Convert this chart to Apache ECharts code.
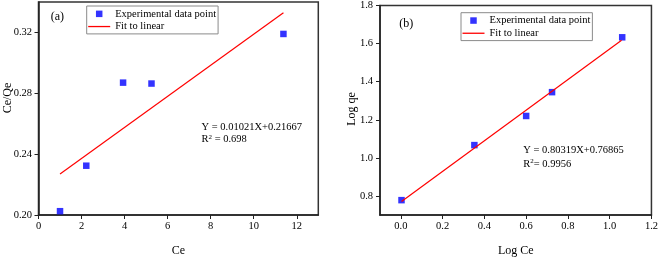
<!DOCTYPE html>
<html>
<head>
<meta charset="utf-8">
<script src="https://cdn.jsdelivr.net/npm/echarts@6/dist/echarts.min.js"></script>
<style>
html,body{margin:0;padding:0;background:#fff;}
#c{width:661px;height:262px;}
</style>
</head>
<body>
<div id="c"></div>
<script>
// ---- Panel (a): Langmuir-type plot ----
const ceA = [1.0, 2.22, 3.93, 5.25, 11.38];
const ceQeA = [0.2025, 0.2324, 0.287, 0.2864, 0.319];
const fitXA = [1.0, 11.38];
const fitYA = [0.227, 0.333];
const xTicksA = [0, 2, 4, 6, 8, 10, 12];
const yTicksA = [0.20, 0.24, 0.28, 0.32];

// ---- Panel (b): Freundlich-type plot ----
const logCeB = [0.003, 0.352, 0.600, 0.724, 1.060];
const logQeB = [0.778, 1.067, 1.220, 1.345, 1.633];
const fitXB = [0.003, 1.057];
const fitYB = [0.771, 1.617];
const xTicksB = [0.0, 0.2, 0.4, 0.6, 0.8, 1.0, 1.2];
const yTicksB = [0.8, 1.0, 1.2, 1.4, 1.6, 1.8];

const names = ['Experimental data point', 'Fit to linear'];
const FONT = 'Liberation Serif, Times New Roman, serif';

const zip = (a, b) => a.map((v, i) => [v, b[i]]);

function axisCommon(ticks, dec, margin) {
  return {
    axisLine: { show: true, onZero: false, lineStyle: { color: '#222', width: 1.5 } },
    axisTick: { show: true, inside: false, length: 4, lineStyle: { color: '#222', width: 1 }, customValues: ticks },
    axisLabel: { margin: margin, color: '#000', fontFamily: FONT, fontSize: 10.5, customValues: ticks,
                 formatter: v => Number(v).toFixed(dec) },
    splitLine: { show: false },
    nameTextStyle: { color: '#000', fontFamily: FONT, fontSize: 12 }
  };
}

const chart = echarts.init(document.getElementById('c'), null, { renderer: 'canvas' });

const legendCommon = {
  orient: 'vertical',
  itemWidth: 22,
  itemHeight: 6.5,
  itemGap: 0,
  padding: [1.5, 2, 1, 1.5],
  borderColor: '#8a8a8a',
  borderWidth: 1,
  backgroundColor: '#fff',
  selectedMode: false,
  symbolKeepAspect: true,
  textStyle: { color: '#000', fontFamily: FONT, fontSize: 10.5, lineHeight: 12.7 },
  data: [
    { name: names[0], icon: 'path://M0,0L10,0L10,10L0,10Z', itemStyle: { color: '#0000ff' } },
    { name: names[1], icon: 'path://M0,0L22,0L22,1.3L0,1.3Z', itemStyle: { color: '#ff0000' } }
  ]
};

chart.setOption({
  animation: false,
  backgroundColor: '#fff',
  grid: [
    { left: 38.5, top: 2, width: 279.8, height: 224.7, show: true, borderColor: '#333', borderWidth: 1.5, backgroundColor: 'transparent' },
    { left: 380, top: 4.7, width: 274, height: 220, show: true, borderColor: '#333', borderWidth: 1.5, backgroundColor: 'transparent' }
  ],
  xAxis: [
    Object.assign(axisCommon(xTicksA, 0, 6), { type: 'value', gridIndex: 0, min: 0, max: 13, name: 'Ce', nameLocation: 'middle', nameGap: 30 }),
    Object.assign(axisCommon(xTicksB, 1, 6), { type: 'value', gridIndex: 1, min: -0.1, max: 1.2, name: 'Log Ce', nameLocation: 'middle', nameGap: 30 })
  ],
  yAxis: [
    Object.assign(axisCommon(yTicksA, 2, 6.5), { type: 'value', gridIndex: 0, min: 0.20, max: 0.34 }),
    Object.assign(axisCommon(yTicksB, 1, 7), { type: 'value', gridIndex: 1, min: 0.7, max: 1.8 })
  ],
  legend: [
    Object.assign({}, legendCommon, { left: 86.7, top: 6 }),
    Object.assign({}, legendCommon, { left: 461, top: 12.7 })
  ],
  series: [
    { name: names[1], type: 'line', xAxisIndex: 0, yAxisIndex: 0, data: zip(fitXA, fitYA),
      symbol: 'none', showSymbol: false, lineStyle: { color: '#ff0000', width: 1.2 }, itemStyle: { color: '#ff0000' }, z: 2 },
    { name: names[0], type: 'scatter', xAxisIndex: 0, yAxisIndex: 0, data: zip(ceA, ceQeA),
      symbol: 'rect', symbolSize: 6.5, itemStyle: { color: '#0000ff' }, z: 3 },
    { name: names[1], type: 'line', xAxisIndex: 1, yAxisIndex: 1, data: zip(fitXB, fitYB),
      symbol: 'none', showSymbol: false, lineStyle: { color: '#ff0000', width: 1.2 }, itemStyle: { color: '#ff0000' }, z: 4 },
    { name: names[0], type: 'scatter', xAxisIndex: 1, yAxisIndex: 1, data: zip(logCeB, logQeB),
      symbol: 'rect', symbolSize: 6.5, itemStyle: { color: '#0000ff' }, z: 3 }
  ],
  graphic: [
    { type: 'text', x: 8.3, y: 98, rotation: Math.PI / 2,
      style: { text: 'Ce/Qe', fill: '#000', font: '12px ' + FONT, align: 'center', verticalAlign: 'middle' } },
    { type: 'text', x: 351.7, y: 109, rotation: Math.PI / 2,
      style: { text: 'Log qe', fill: '#000', font: '12px ' + FONT, align: 'center', verticalAlign: 'middle' } },
    { type: 'text', x: 50.7, y: 17,
      style: { text: '(a)', fill: '#000', font: '12px ' + FONT, align: 'left', verticalAlign: 'middle' } },
    { type: 'text', x: 399.3, y: 24,
      style: { text: '(b)', fill: '#000', font: '12px ' + FONT, align: 'left', verticalAlign: 'middle' } },
    { type: 'text', x: 201.5, y: 127.5,
      style: { text: 'Y = 0.01021X+0.21667', fill: '#000', font: '10.5px ' + FONT, align: 'left', verticalAlign: 'middle' } },
    { type: 'text', x: 201.5, y: 139.5,
      style: { text: 'R{s|2} = 0.698', fill: '#000', font: '10.5px ' + FONT, align: 'left', verticalAlign: 'middle',
               rich: { s: { fontSize: 7, fontFamily: FONT, verticalAlign: 'top', padding: [0, 0, 5, 0] } } } },
    { type: 'text', x: 523.3, y: 150.7,
      style: { text: 'Y = 0.80319X+0.76865', fill: '#000', font: '10.5px ' + FONT, align: 'left', verticalAlign: 'middle' } },
    { type: 'text', x: 523.3, y: 164,
      style: { text: 'R{s|2}= 0.9956', fill: '#000', font: '10.5px ' + FONT, align: 'left', verticalAlign: 'middle',
               rich: { s: { fontSize: 7, fontFamily: FONT, verticalAlign: 'top', padding: [0, 0, 5, 0] } } } }
  ]
});
</script>
</body>
</html>
